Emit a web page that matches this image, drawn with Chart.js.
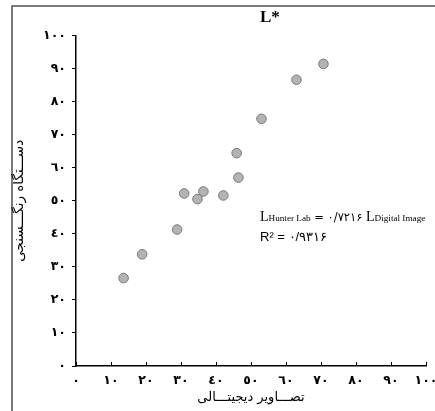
<!DOCTYPE html>
<html>
<head>
<meta charset="utf-8">
<script src="https://cdn.jsdelivr.net/npm/chart.js@4/dist/chart.umd.min.js"></script>
<style>
  html, body { margin: 0; padding: 0; background: #fff; }
  #wrap { width: 435px; height: 411px; position: relative; }
</style>
</head>
<body>
<div id="wrap"><canvas id="c" width="435" height="411"></canvas></div>
<script>
// ---- data ----
const digitalImageL = [13.6, 18.9, 28.9, 30.9, 34.7, 36.4, 42.1, 46.4, 45.9, 53.0, 63.0, 70.7];
const hunterLabL   = [26.6, 33.8, 41.3, 52.2, 50.5, 52.8, 51.6, 57.0, 64.4, 74.8, 86.6, 91.4];
const tickValues   = [0, 10, 20, 30, 40, 50, 60, 70, 80, 90, 100];
const chartTitle   = 'L*';
const xAxisTitle   = 'تصـــاویر دیجیتـــالی';
const yAxisTitle   = 'دســـتگاه رنگـــسنجی';
const eqParts      = ['L', 'Hunter Lab', ' = ۰/۷۲۱۶ ', 'L', 'Digital Image'];
const r2Text       = 'R² = ۰/۹۳۱۶';

const arabicDigits = '٠١٢٣٤٥٦٧٨٩';
function toArabic(n) { return String(n).replace(/[0-9]/g, d => arabicDigits[+d]); }

const points = digitalImageL.map((x, i) => ({ x: x, y: hunterLabL[i] }));

const decorPlugin = {
  id: 'decor',
  beforeDraw(chart) {
    const ctx = chart.ctx;
    ctx.save();
    ctx.strokeStyle = '#505050';
    ctx.lineWidth = 1.5;
    ctx.beginPath();
    ctx.moveTo(12, 411);
    ctx.lineTo(12, 6);
    ctx.lineTo(435, 6);
    ctx.stroke();
    ctx.restore();
  },
  afterDraw(chart) {
    const ctx = chart.ctx;
    const xs = chart.scales.x;
    const area = chart.chartArea;
    ctx.save();
    // inward x ticks
    ctx.strokeStyle = '#000';
    ctx.lineWidth = 1;
    xs.ticks.forEach(t => {
      const px = Math.round(xs.getPixelForValue(t.value)) + 0.5;
      ctx.beginPath();
      ctx.moveTo(px, area.bottom);
      ctx.lineTo(px, area.bottom - 4);
      ctx.stroke();
    });
    // title
    ctx.direction = 'ltr';
    ctx.fillStyle = '#000';
    ctx.textBaseline = 'alphabetic';
    ctx.font = 'bold 17px "Liberation Serif"';
    ctx.textAlign = 'left';
    ctx.fillText(chartTitle, 260, 22);
    // equation
    let x = 260;
    const base = 221;
    const big = '14px "Liberation Serif"';
    const small = '9.2px "Liberation Serif"';
    const num = '11.5px "DejaVu Sans"';
    const fonts = [big, small, num, big, small];
    eqParts.forEach((s, i) => {
      ctx.font = fonts[i];
      ctx.fillText(s, x, base);
      x += ctx.measureText(s).width;
    });
    ctx.font = '13px "Liberation Sans"';
    ctx.fillText(r2Text, 260, 241);
    ctx.restore();
  }
};

new Chart(document.getElementById('c'), {
  type: 'scatter',
  data: {
    datasets: [{
      data: points,
      backgroundColor: '#b3b3b3',
      borderColor: '#7a7a7a',
      borderWidth: 1,
      pointRadius: 4.8,
      pointHoverRadius: 4.8
    }]
  },
  options: {
    responsive: false,
    animation: false,
    devicePixelRatio: 1,
    layout: { padding: { left: 0, top: 35.5, right: 9, bottom: 0 } },
    plugins: { legend: { display: false }, tooltip: { enabled: false }, title: { display: false } },
    scales: {
      x: {
        type: 'linear',
        min: 0, max: 100,
        afterBuildTicks(s) { s.ticks = tickValues.map(v => ({ value: v })); },
        afterFit(s) { s.height = 45; s.paddingLeft = 0; s.paddingRight = 0; },
        grid: { display: true, drawOnChartArea: false, drawTicks: false },
        border: { display: true, color: '#000', width: 1.5 },
        ticks: {
          autoSkip: false, maxRotation: 0, padding: 7,
          color: '#000',
          font: { family: 'DejaVu Sans', size: 12.5, weight: 'bold' },
          callback: v => toArabic(v)
        },
        title: {
          display: true, text: xAxisTitle, color: '#000',
          font: { family: 'DejaVu Sans', size: 13 },
          padding: { top: 0, bottom: 6 }
        }
      },
      y: {
        type: 'linear',
        min: 0, max: 100,
        afterBuildTicks(s) { s.ticks = tickValues.map(v => ({ value: v })); },
        afterFit(s) { s.width = 76; s.paddingTop = 0; s.paddingBottom = 0; },
        grid: { display: true, drawOnChartArea: false, drawTicks: true, tickLength: 4, tickColor: '#000', tickWidth: 1 },
        border: { display: true, color: '#000', width: 1.5 },
        ticks: {
          padding: 6,
          color: '#000',
          font: { family: 'DejaVu Sans', size: 12.5, weight: 'bold' },
          callback: v => toArabic(v)
        },
        title: {
          display: true, text: yAxisTitle, color: '#000',
          font: { family: 'DejaVu Sans', size: 13.5 },
          padding: { top: 11, bottom: 0 }
        }
      }
    }
  },
  plugins: [decorPlugin]
});
</script>
</body>
</html>
